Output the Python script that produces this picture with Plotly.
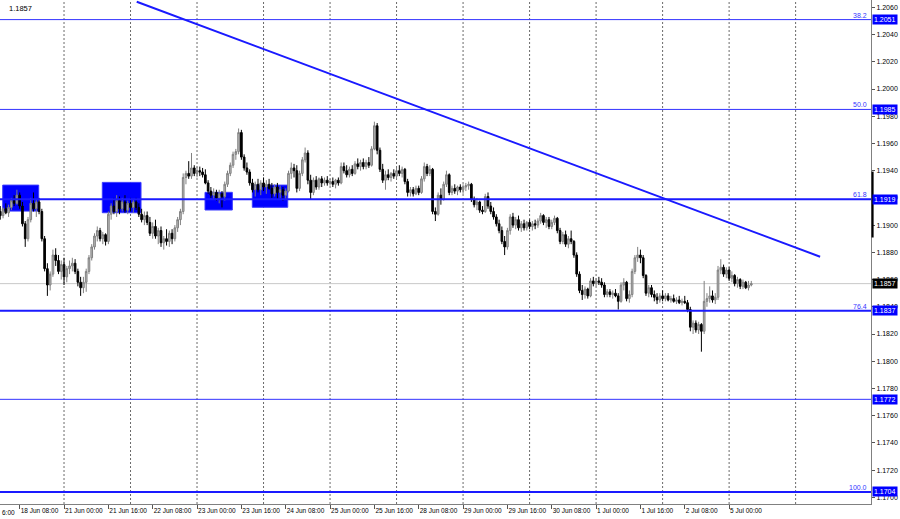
import pandas as pd
import plotly.graph_objects as go

# ---------------- data (EURUSD H1) ----------------
open_ = [
    1.1910, 1.1907, 1.1912, 1.1909, 1.1913, 1.1918, 1.1916, 1.1922, 1.1914, 1.1901, 1.1890, 1.1904, 1.1916, 1.1912, 1.1917, 1.1910, 1.1890, 1.1868, 1.1856, 1.1864, 1.1878, 1.1874, 1.1866,
    1.1871, 1.1862, 1.1868, 1.1870, 1.1872, 1.1866, 1.1858, 1.1854, 1.1858, 1.1866, 1.1876, 1.1884, 1.1892, 1.1896, 1.1890, 1.1893, 1.1888, 1.1908, 1.1914, 1.1910, 1.1918, 1.1912, 1.1917, 1.1911,
    1.1916, 1.1913, 1.1917, 1.1913, 1.1908, 1.1904, 1.1907, 1.1902, 1.1894, 1.1899, 1.1892, 1.1896, 1.1887, 1.1890, 1.1888, 1.1894, 1.1890, 1.1898, 1.1904, 1.1910, 1.1935, 1.1938, 1.1936, 1.1942,
    1.1938, 1.1940, 1.1939, 1.1937, 1.1931, 1.1925, 1.1922, 1.1924, 1.1920, 1.1923, 1.1921, 1.1930, 1.1938, 1.1944, 1.1952, 1.1954, 1.1968, 1.1950, 1.1942, 1.1939, 1.1931, 1.1926, 1.1930, 1.1926,
    1.1931, 1.1928, 1.1930, 1.1927, 1.1923, 1.1928, 1.1924, 1.1926, 1.1922, 1.1925, 1.1938, 1.1942, 1.1940, 1.1927, 1.1938, 1.1948, 1.1953, 1.1933, 1.1924, 1.1933, 1.1928, 1.1934, 1.1931, 1.1933,
    1.1931, 1.1932, 1.1930, 1.1933, 1.1931, 1.1943, 1.1940, 1.1937, 1.1941, 1.1938, 1.1945, 1.1943, 1.1946, 1.1943, 1.1946, 1.1944, 1.1956, 1.1973, 1.1955, 1.1941, 1.1933, 1.1937, 1.1935, 1.1938,
    1.1936, 1.1940, 1.1938, 1.1941, 1.1932, 1.1924, 1.1926, 1.1923, 1.1927, 1.1924, 1.1934, 1.1943, 1.1938, 1.1941, 1.1910, 1.1908, 1.1922, 1.1919, 1.1930, 1.1937, 1.1924, 1.1927, 1.1925, 1.1928,
    1.1926, 1.1928, 1.1929, 1.1930, 1.1919, 1.1915, 1.1917, 1.1911, 1.1910, 1.1921, 1.1914, 1.1910, 1.1906, 1.1901, 1.1896, 1.1888, 1.1884, 1.1896, 1.1906, 1.1900, 1.1904, 1.1898, 1.1901, 1.1898,
    1.1902, 1.1899, 1.1901, 1.1900, 1.1903, 1.1907, 1.1902, 1.1904, 1.1899, 1.1902, 1.1905, 1.1896, 1.1888, 1.1893, 1.1886, 1.1890, 1.1888, 1.1878, 1.1864, 1.1852, 1.1849, 1.1853, 1.1848, 1.1859,
    1.1857, 1.1859, 1.1858, 1.1856, 1.1849, 1.1851, 1.1849, 1.1850, 1.1848, 1.1844, 1.1856, 1.1858, 1.1846, 1.1849, 1.1866, 1.1876, 1.1878, 1.1876, 1.1863, 1.1850, 1.1854, 1.1849, 1.1847, 1.1845,
    1.1848, 1.1846, 1.1848, 1.1845, 1.1846, 1.1844, 1.1845, 1.1843, 1.1844, 1.1843, 1.1838, 1.1825, 1.1828, 1.1823, 1.1827, 1.1822, 1.1844, 1.1846, 1.1848, 1.1845, 1.1847, 1.1867, 1.1869, 1.1864,
    1.1867, 1.1861, 1.1863, 1.1857, 1.1860, 1.1855, 1.1858, 1.1854, 1.1856,
]
high = [
    1.1914, 1.1913, 1.1916, 1.1915, 1.1920, 1.1922, 1.1926, 1.1924, 1.1917, 1.1903, 1.1906, 1.1920, 1.1924, 1.1919, 1.1920, 1.1912, 1.1892, 1.1872, 1.1866, 1.1882, 1.1883, 1.1878, 1.1874,
    1.1876, 1.1870, 1.1874, 1.1876, 1.1875, 1.1868, 1.1862, 1.1862, 1.1868, 1.1878, 1.1886, 1.1894, 1.1899, 1.1898, 1.1895, 1.1894, 1.1910, 1.1916, 1.1920, 1.1922, 1.1921, 1.1920, 1.1922, 1.1918,
    1.1920, 1.1919, 1.1920, 1.1916, 1.1912, 1.1910, 1.1910, 1.1906, 1.1902, 1.1904, 1.1898, 1.1899, 1.1892, 1.1897, 1.1896, 1.1897, 1.1900, 1.1906, 1.1912, 1.1938, 1.1940, 1.1947, 1.1953, 1.1944,
    1.1943, 1.1943, 1.1942, 1.1941, 1.1933, 1.1928, 1.1927, 1.1926, 1.1926, 1.1925, 1.1932, 1.1940, 1.1946, 1.1954, 1.1956, 1.1971, 1.1970, 1.1952, 1.1946, 1.1941, 1.1934, 1.1932, 1.1934, 1.1933,
    1.1935, 1.1933, 1.1934, 1.1931, 1.1930, 1.1931, 1.1929, 1.1928, 1.1927, 1.1940, 1.1946, 1.1945, 1.1944, 1.1940, 1.1950, 1.1957, 1.1955, 1.1937, 1.1935, 1.1936, 1.1935, 1.1936, 1.1935, 1.1936,
    1.1934, 1.1935, 1.1934, 1.1935, 1.1946, 1.1946, 1.1944, 1.1943, 1.1944, 1.1947, 1.1949, 1.1948, 1.1949, 1.1948, 1.1950, 1.1958, 1.1976, 1.1975, 1.1957, 1.1945, 1.1940, 1.1941, 1.1939, 1.1941,
    1.1942, 1.1944, 1.1943, 1.1942, 1.1934, 1.1928, 1.1928, 1.1929, 1.1929, 1.1936, 1.1946, 1.1945, 1.1944, 1.1942, 1.1913, 1.1924, 1.1927, 1.1932, 1.1940, 1.1938, 1.1929, 1.1930, 1.1929, 1.1930,
    1.1930, 1.1931, 1.1932, 1.1931, 1.1921, 1.1920, 1.1918, 1.1914, 1.1923, 1.1924, 1.1917, 1.1913, 1.1908, 1.1904, 1.1899, 1.1892, 1.1898, 1.1908, 1.1909, 1.1906, 1.1907, 1.1903, 1.1904, 1.1903,
    1.1904, 1.1903, 1.1904, 1.1905, 1.1909, 1.1908, 1.1906, 1.1906, 1.1904, 1.1907, 1.1906, 1.1898, 1.1895, 1.1896, 1.1892, 1.1896, 1.1889, 1.1880, 1.1866, 1.1856, 1.1855, 1.1854, 1.1861, 1.1862,
    1.1861, 1.1862, 1.1861, 1.1858, 1.1853, 1.1853, 1.1852, 1.1853, 1.1850, 1.1858, 1.1861, 1.1859, 1.1852, 1.1868, 1.1878, 1.1884, 1.1882, 1.1878, 1.1864, 1.1856, 1.1856, 1.1852, 1.1850, 1.1850,
    1.1852, 1.1850, 1.1850, 1.1848, 1.1849, 1.1847, 1.1848, 1.1846, 1.1848, 1.1845, 1.1840, 1.1830, 1.1830, 1.1829, 1.1828, 1.1859, 1.1850, 1.1855, 1.1852, 1.1850, 1.1870, 1.1875, 1.1871, 1.1869,
    1.1869, 1.1866, 1.1864, 1.1862, 1.1861, 1.1860, 1.1859, 1.1859, 1.1859,
]
low = [
    1.1904, 1.1905, 1.1908, 1.1906, 1.1911, 1.1914, 1.1915, 1.1912, 1.1899, 1.1884, 1.1888, 1.1902, 1.1910, 1.1906, 1.1908, 1.1888, 1.1866, 1.1848, 1.1852, 1.1862, 1.1870, 1.1864, 1.1860,
    1.1856, 1.1858, 1.1864, 1.1866, 1.1864, 1.1855, 1.1848, 1.1850, 1.1851, 1.1864, 1.1874, 1.1882, 1.1888, 1.1888, 1.1886, 1.1885, 1.1886, 1.1904, 1.1908, 1.1906, 1.1908, 1.1910, 1.1909, 1.1908,
    1.1910, 1.1909, 1.1911, 1.1906, 1.1902, 1.1900, 1.1900, 1.1892, 1.1890, 1.1890, 1.1886, 1.1884, 1.1882, 1.1885, 1.1884, 1.1886, 1.1888, 1.1895, 1.1900, 1.1908, 1.1930, 1.1934, 1.1934, 1.1936,
    1.1935, 1.1936, 1.1935, 1.1930, 1.1923, 1.1920, 1.1919, 1.1918, 1.1916, 1.1913, 1.1918, 1.1928, 1.1936, 1.1942, 1.1948, 1.1952, 1.1948, 1.1940, 1.1937, 1.1929, 1.1924, 1.1921, 1.1924, 1.1922,
    1.1925, 1.1923, 1.1926, 1.1920, 1.1921, 1.1919, 1.1920, 1.1918, 1.1919, 1.1924, 1.1934, 1.1935, 1.1924, 1.1925, 1.1936, 1.1946, 1.1930, 1.1919, 1.1922, 1.1926, 1.1926, 1.1928, 1.1929, 1.1929,
    1.1929, 1.1928, 1.1927, 1.1929, 1.1930, 1.1938, 1.1935, 1.1935, 1.1936, 1.1937, 1.1941, 1.1940, 1.1941, 1.1941, 1.1942, 1.1943, 1.1955, 1.1952, 1.1939, 1.1931, 1.1926, 1.1933, 1.1932, 1.1934,
    1.1934, 1.1936, 1.1935, 1.1930, 1.1921, 1.1921, 1.1921, 1.1922, 1.1922, 1.1923, 1.1932, 1.1936, 1.1936, 1.1908, 1.1903, 1.1907, 1.1915, 1.1918, 1.1928, 1.1922, 1.1922, 1.1923, 1.1922, 1.1924,
    1.1923, 1.1925, 1.1926, 1.1917, 1.1913, 1.1911, 1.1909, 1.1908, 1.1909, 1.1912, 1.1908, 1.1904, 1.1899, 1.1894, 1.1886, 1.1878, 1.1882, 1.1893, 1.1898, 1.1897, 1.1896, 1.1895, 1.1896, 1.1896,
    1.1897, 1.1896, 1.1897, 1.1898, 1.1901, 1.1900, 1.1898, 1.1897, 1.1897, 1.1900, 1.1894, 1.1886, 1.1886, 1.1884, 1.1883, 1.1886, 1.1876, 1.1862, 1.1850, 1.1845, 1.1846, 1.1846, 1.1847, 1.1855,
    1.1855, 1.1856, 1.1854, 1.1847, 1.1847, 1.1847, 1.1846, 1.1847, 1.1838, 1.1843, 1.1852, 1.1844, 1.1843, 1.1847, 1.1864, 1.1873, 1.1872, 1.1861, 1.1848, 1.1847, 1.1847, 1.1844, 1.1842, 1.1843,
    1.1844, 1.1844, 1.1844, 1.1843, 1.1843, 1.1842, 1.1842, 1.1841, 1.1842, 1.1836, 1.1822, 1.1820, 1.1821, 1.1820, 1.1807, 1.1820, 1.1840, 1.1843, 1.1843, 1.1842, 1.1845, 1.1864, 1.1862, 1.1861,
    1.1859, 1.1858, 1.1855, 1.1854, 1.1853, 1.1853, 1.1853, 1.1852, 1.1855,
]
close = [
    1.1907, 1.1912, 1.1909, 1.1913, 1.1918, 1.1916, 1.1922, 1.1914, 1.1901, 1.1890, 1.1904, 1.1916, 1.1912, 1.1917, 1.1910, 1.1890, 1.1868, 1.1856, 1.1864, 1.1878, 1.1874, 1.1866, 1.1871,
    1.1862, 1.1868, 1.1870, 1.1872, 1.1866, 1.1858, 1.1854, 1.1858, 1.1866, 1.1876, 1.1884, 1.1892, 1.1896, 1.1890, 1.1893, 1.1888, 1.1908, 1.1914, 1.1910, 1.1918, 1.1912, 1.1917, 1.1911, 1.1916,
    1.1913, 1.1917, 1.1913, 1.1908, 1.1904, 1.1907, 1.1902, 1.1894, 1.1899, 1.1892, 1.1896, 1.1887, 1.1890, 1.1888, 1.1894, 1.1890, 1.1898, 1.1904, 1.1910, 1.1935, 1.1938, 1.1936, 1.1942, 1.1938,
    1.1940, 1.1939, 1.1937, 1.1931, 1.1925, 1.1922, 1.1924, 1.1920, 1.1923, 1.1921, 1.1930, 1.1938, 1.1944, 1.1952, 1.1954, 1.1968, 1.1950, 1.1942, 1.1939, 1.1931, 1.1926, 1.1930, 1.1926, 1.1931,
    1.1928, 1.1930, 1.1927, 1.1923, 1.1928, 1.1924, 1.1926, 1.1922, 1.1925, 1.1938, 1.1942, 1.1940, 1.1927, 1.1938, 1.1948, 1.1953, 1.1933, 1.1924, 1.1933, 1.1928, 1.1934, 1.1931, 1.1933, 1.1931,
    1.1932, 1.1930, 1.1933, 1.1931, 1.1943, 1.1940, 1.1937, 1.1941, 1.1938, 1.1945, 1.1943, 1.1946, 1.1943, 1.1946, 1.1944, 1.1956, 1.1973, 1.1955, 1.1941, 1.1933, 1.1937, 1.1935, 1.1938, 1.1936,
    1.1940, 1.1938, 1.1941, 1.1932, 1.1924, 1.1926, 1.1923, 1.1927, 1.1924, 1.1934, 1.1943, 1.1938, 1.1941, 1.1910, 1.1908, 1.1922, 1.1919, 1.1930, 1.1937, 1.1924, 1.1927, 1.1925, 1.1928, 1.1926,
    1.1928, 1.1929, 1.1930, 1.1919, 1.1915, 1.1917, 1.1911, 1.1910, 1.1921, 1.1914, 1.1910, 1.1906, 1.1901, 1.1896, 1.1888, 1.1884, 1.1896, 1.1906, 1.1900, 1.1904, 1.1898, 1.1901, 1.1898, 1.1902,
    1.1899, 1.1901, 1.1900, 1.1903, 1.1907, 1.1902, 1.1904, 1.1899, 1.1902, 1.1905, 1.1896, 1.1888, 1.1893, 1.1886, 1.1890, 1.1888, 1.1878, 1.1864, 1.1852, 1.1849, 1.1853, 1.1848, 1.1859, 1.1857,
    1.1859, 1.1858, 1.1856, 1.1849, 1.1851, 1.1849, 1.1850, 1.1848, 1.1844, 1.1856, 1.1858, 1.1846, 1.1849, 1.1866, 1.1876, 1.1878, 1.1876, 1.1863, 1.1850, 1.1854, 1.1849, 1.1847, 1.1845, 1.1848,
    1.1846, 1.1848, 1.1845, 1.1846, 1.1844, 1.1845, 1.1843, 1.1844, 1.1843, 1.1838, 1.1825, 1.1828, 1.1823, 1.1827, 1.1822, 1.1844, 1.1846, 1.1848, 1.1845, 1.1847, 1.1867, 1.1869, 1.1864, 1.1867,
    1.1861, 1.1863, 1.1857, 1.1860, 1.1855, 1.1858, 1.1854, 1.1856, 1.1857,
]

x_tick_times = [
    "2021-06-18 08:00", "2021-06-21 00:00", "2021-06-21 16:00", "2021-06-22 08:00",
    "2021-06-23 00:00", "2021-06-23 16:00", "2021-06-24 08:00", "2021-06-25 00:00",
    "2021-06-25 16:00", "2021-06-28 08:00", "2021-06-29 00:00", "2021-06-29 16:00",
    "2021-06-30 08:00", "2021-07-01 00:00", "2021-07-01 16:00", "2021-07-02 08:00",
    "2021-07-05 00:00",
]
y_tick_labels = ["1.1700", "1.1720", "1.1740", "1.1760", "1.1780", "1.1800", "1.1820",
                 "1.1840", "1.1860", "1.1880", "1.1900", "1.1920", "1.1940", "1.1960",
                 "1.1980", "1.2000", "1.2020", "1.2040", "1.2060"]

# Fibonacci / horizontal levels
level_prices = [1.2051, 1.1985, 1.1919, 1.1837, 1.1772, 1.1704]
level_names = ["38.2", "50.0", "61.8", "76.4", "", "100.0"]

# trend line anchors (bar position, price)
trend_bar = [49.24, 295.83]
trend_price = [1.20641, 1.18768]

# rectangles (bar0, bar1, price_low, price_high)
boxes = [
    (0.88, 13.87, 1.19103, 1.19294),
    (36.82, 50.79, 1.19091, 1.19314),
    (73.88, 83.74, 1.19111, 1.19241),
    (90.95, 103.73, 1.19131, 1.19294),
]

# ---------------- build ----------------
times = [t for t in pd.date_range("2021-06-18 01:00", "2021-07-05 08:00", freq="h") if t.weekday() < 5]
n = len(times)
assert len(open_) == len(high) == len(low) == len(close) == n, (len(open_), len(high), len(low), len(close), n)
bars = list(range(n))

tick_pos = [times.index(pd.Timestamp(s)) for s in x_tick_times]
tick_text = [f"{pd.Timestamp(s).day} {pd.Timestamp(s):%b %H:%M}" for s in x_tick_times]
day_starts = [i for i, t in enumerate(times) if t.hour == 0]
day_starts.append(day_starts[-1] + 24)

BLUE = "#0000ff"
LINE_BLUE = "#1a1aff"
FONT = "Liberation Sans, Arial, sans-serif"

fig = go.Figure(go.Candlestick(
    x=bars, open=open_, high=high, low=low, close=close,
    increasing=dict(line=dict(color="#808080", width=1), fillcolor="#b8b8b8"),
    decreasing=dict(line=dict(color="#000000", width=1), fillcolor="#000000"),
    whiskerwidth=0, showlegend=False, hoverinfo="skip",
))

shapes = []
for d in day_starts:
    shapes.append(dict(type="line", xref="x", yref="paper", x0=d, x1=d, y0=0, y1=1,
                       line=dict(color="#6a6a6a", width=1, dash="2px,2px"), layer="below"))
for b0, b1, p0, p1 in boxes:
    shapes.append(dict(type="rect", xref="x", yref="y", x0=b0, x1=b1, y0=p0, y1=p1,
                       fillcolor=BLUE, line=dict(color="#3a3aff", width=1), layer="below"))
# current price line
shapes.append(dict(type="line", xref="paper", yref="y", x0=0, x1=1, y0=close[-1], y1=close[-1],
                   line=dict(color="#c8c8c8", width=1), layer="below"))
widths = [1, 1, 2, 2, 1, 2]
for p, w in zip(level_prices, widths):
    shapes.append(dict(type="line", xref="paper", yref="y", x0=0, x1=1, y0=p, y1=p,
                       line=dict(color=LINE_BLUE if w > 1 else "#3333ff", width=w), layer="above"))
shapes.append(dict(type="line", xref="x", yref="y", x0=trend_bar[0], x1=trend_bar[1],
                   y0=trend_price[0], y1=trend_price[1],
                   line=dict(color=LINE_BLUE, width=2), layer="above"))
# black marker on the price scale
shapes.append(dict(type="rect", xref="paper", yref="y", x0=1.0006, x1=1.0030,
                   y0=1.18909, y1=1.19393, fillcolor="#000000", line=dict(width=0)))

annotations = []
for p, name in zip(level_prices, level_names):
    annotations.append(dict(xref="paper", yref="y", x=1, y=p, xanchor="left", yanchor="middle",
                            xshift=1, text=f"{p:.4f}", showarrow=False, bgcolor=BLUE,
                            borderpad=1, font=dict(color="white", size=7, family=FONT)))
    if name:
        annotations.append(dict(xref="paper", yref="y", x=1, y=p, xanchor="right", yanchor="bottom",
                                xshift=-2, yshift=-1, text=name, showarrow=False,
                                font=dict(color="#3535ff", size=7, family=FONT)))
annotations.append(dict(xref="paper", yref="y", x=1, y=close[-1], xanchor="left", yanchor="middle",
                        xshift=1, text=f"{close[-1]:.4f}", showarrow=False, bgcolor="#000000",
                        borderpad=1, font=dict(color="white", size=7, family=FONT)))
annotations.append(dict(xref="paper", yref="paper", x=0, y=1, xanchor="left", yanchor="top",
                        xshift=7, yshift=-2, text=f"{close[-1]:.4f}", showarrow=False,
                        font=dict(color="#000000", size=7.5, family=FONT)))
annotations.append(dict(xref="paper", yref="paper", x=0, y=0, xanchor="left", yanchor="top",
                        xshift=0, yshift=-3, text="6:00", showarrow=False,
                        font=dict(color="#000000", size=6.5, family=FONT)))

fig.update_layout(
    width=900, height=519,
    margin=dict(l=0, r=29, t=0, b=15, pad=0, autoexpand=False),
    paper_bgcolor="white", plot_bgcolor="white",
    font=dict(family=FONT, size=7, color="#000000"),
    showlegend=False, shapes=shapes, annotations=annotations,
    boxgap=0.4, boxgroupgap=0,
)
fig.update_xaxes(
    range=[-0.1, 314.2], tickvals=tick_pos, ticktext=tick_text, tickangle=0,
    ticks="outside", ticklen=4, tickcolor="#555555", tickwidth=1,
    ticklabelposition="outside right", showgrid=False, zeroline=False,
    showline=True, linecolor="#808080", linewidth=1, mirror=True, automargin=False,
    rangeslider_visible=False, tickfont=dict(size=6.5, family=FONT),
)
fig.update_yaxes(
    side="right", range=[1.16951, 1.20654], automargin=False,
    tickvals=[float(s) for s in y_tick_labels], ticktext=y_tick_labels,
    ticks="outside", ticklen=3, tickcolor="#555555",
    showgrid=False, zeroline=False, showline=True, linecolor="#808080",
    linewidth=1, mirror=True, tickfont=dict(size=7, family=FONT),
)

fig.write_html("out.html", config={"displayModeBar": False},
               post_script="document.body.style.margin='0';document.body.style.overflow='hidden';")
